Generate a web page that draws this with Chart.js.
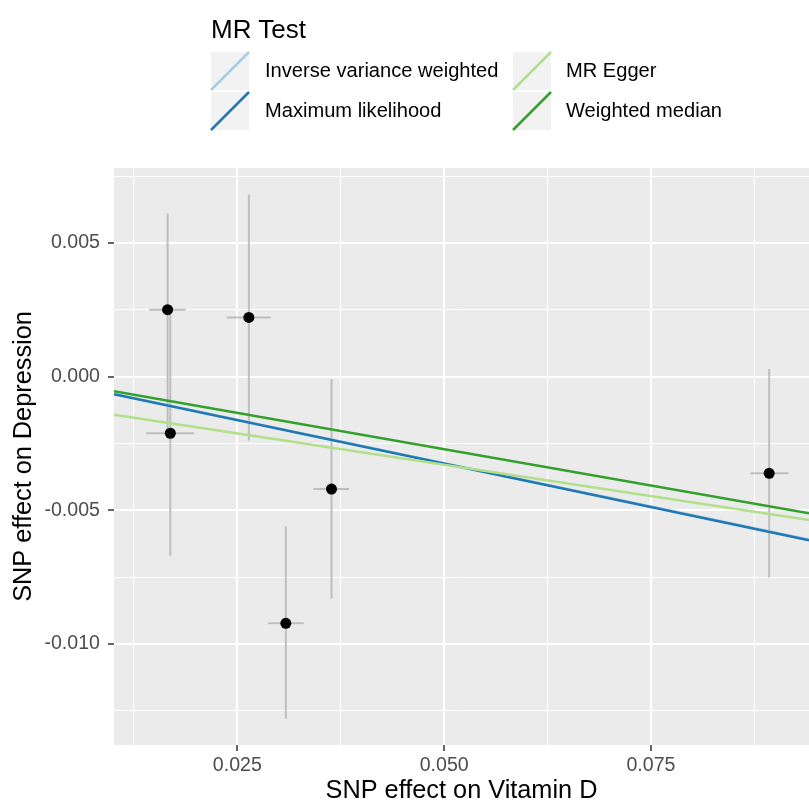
<!DOCTYPE html>
<html>
<head>
<meta charset="utf-8">
<script src="https://cdn.jsdelivr.net/npm/chart.js@4.4.1/dist/chart.umd.min.js"></script>
<style>
    html, body { margin: 0; padding: 0; background: #fff; }
    #wrap { position: relative; width: 809px; height: 807px; overflow: hidden; font-family: "Liberation Sans", Arial, sans-serif; }
    #mrChart { position: absolute; left: 0; top: 0; }
    .lg-title { position: absolute; left: 211px; top: 16px; font-size: 26px; line-height: 26px; color: #000; white-space: nowrap; }
    .lg-key { position: absolute; width: 38px; height: 38px; background: #f2f2f2; }
    .lg-key svg { position: absolute; left: 0; top: 0; overflow: visible; }
    .lg-label { position: absolute; font-size: 20.1px; line-height: 20.1px; color: #000; white-space: nowrap; }
</style>
</head>
<body>
<div id="wrap">
    <canvas id="mrChart" width="809" height="807"></canvas>
    <div id="legend"></div>
</div>
<script>
// SNP estimates (x = Vitamin D, y = Depression)
const snpX   = [0.01657, 0.0169, 0.02639, 0.03638, 0.03086, 0.08929];
const snpXlo = [0.01434, 0.01395, 0.02373, 0.0342, 0.02872, 0.08702];
const snpXhi = [0.01874, 0.01975, 0.02905, 0.0385, 0.03303, 0.09161];
const snpY   = [0.0025, -0.00212, 0.00221, -0.00421, -0.00923, -0.00362];
const snpYlo = [-0.0020, -0.0067, -0.0024, -0.0083, -0.0128, -0.00752];
const snpYhi = [0.0061, 0.0025, 0.0068, -0.0001, -0.0056, 0.00028];

// MR fits
const methods    = ['Inverse variance weighted', 'Maximum likelihood', 'MR Egger', 'Weighted median'];
const slopes     = [-0.0648, -0.0651, -0.0468, -0.0543];
const intercepts = [0, 0, -0.00096, 0];
const methodColors = ['#a6cee3', '#1f78b4', '#b2df8a', '#33a02c'];

// axes
const xRange = [0.01009, 0.0941];
const yRange = [-0.01378, 0.0078];
const xMajor = [0.025, 0.05, 0.075];
const xMinor = [0.0125, 0.0375, 0.0625, 0.0875];
const xLabels = ['0.025', '0.050', '0.075'];
const yMajor = [-0.01, -0.005, 0, 0.005];
const yMinor = [-0.0125, -0.0075, -0.0025, 0.0025, 0.0075];
const yLabels = ['-0.010', '-0.005', '0.000', '0.005'];

// legend (html, 2 columns filled by column like ggplot)
const legendEl = document.getElementById('legend');
let html = '<div class="lg-title">MR Test</div>';
methods.forEach((m, i) => {
    const col = Math.floor(i / 2), row = i % 2;
    const kx = col === 0 ? 211 : 513;
    const ky = 52 + row * 40;
    const lx = col === 0 ? 265 : 566;
    html += `<div class="lg-key" style="left:${kx}px;top:${ky}px"><svg width="38" height="38"><line x1="0" y1="38" x2="38" y2="0" stroke="${methodColors[i]}" stroke-width="2.5"/></svg></div>`;
    html += `<div class="lg-label" style="left:${lx}px;top:${ky + 8}px">${m}</div>`;
});
legendEl.innerHTML = html;

// datasets
const vBars = [], hBars = [];
snpX.forEach((x, i) => {
    vBars.push({ x: x, y: snpYlo[i] }, { x: x, y: snpYhi[i] }, { x: x, y: null });
    hBars.push({ x: snpXlo[i], y: snpY[i] }, { x: snpXhi[i], y: snpY[i] }, { x: snpXhi[i], y: null });
});

const fitSets = methods.map((m, i) => ({
    label: m,
    data: xRange.map(x => ({ x: x, y: intercepts[i] + slopes[i] * x })),
    showLine: true,
    borderColor: methodColors[i],
    borderWidth: 2.5,
    pointRadius: 0,
    order: 4 - i,
}));

const isMajor = (list, v) => list.some(t => Math.abs(t - v) < 1e-9);

// grey panel behind the grid
const panelBg = {
    id: 'panelBg',
    beforeDraw(chart) {
        const { ctx, chartArea: a } = chart;
        ctx.save();
        ctx.fillStyle = '#fff';
        ctx.fillRect(0, 0, chart.width, chart.height);
        ctx.fillStyle = '#ebebeb';
        ctx.fillRect(a.left, a.top, a.right - a.left, a.bottom - a.top);
        ctx.restore();
    }
};

Chart.defaults.font.family = '"Liberation Sans", Arial, sans-serif';

new Chart(document.getElementById('mrChart'), {
    type: 'scatter',
    data: {
        datasets: [
            {
                label: 'vbars', data: vBars, showLine: true, spanGaps: false,
                borderColor: '#bebebe', borderWidth: 2, pointRadius: 0, order: 10,
            },
            {
                label: 'hbars', data: hBars, showLine: true, spanGaps: false,
                borderColor: '#bebebe', borderWidth: 2, pointRadius: 0, order: 9,
            },
            {
                label: 'snps', data: snpX.map((x, i) => ({ x: x, y: snpY[i] })),
                pointRadius: 5.5, pointBackgroundColor: '#000', pointBorderWidth: 0, order: 8,
            },
            ...fitSets
        ]
    },
    options: {
        responsive: false,
        animation: false,
        layout: { autoPadding: false, padding: { top: 168, left: 0, right: 0, bottom: 0 } },
        plugins: { legend: { display: false }, tooltip: { enabled: false } },
        scales: {
            x: {
                type: 'linear',
                min: xRange[0], max: xRange[1],
                afterBuildTicks: s => { s.ticks = [...xMajor, ...xMinor].sort((a, b) => a - b).map(v => ({ value: v })); },
                afterFit: s => { s.height = 62; s.paddingLeft = 0; s.paddingRight = 0; },
                border: { display: false },
                grid: {
                    color: '#fff',
                    lineWidth: c => isMajor(xMajor, c.tick.value) ? 2 : 1,
                    tickColor: c => isMajor(xMajor, c.tick.value) ? '#333' : 'rgba(0,0,0,0)',
                    tickLength: 6,
                    tickWidth: 1.5,
                },
                ticks: {
                    autoSkip: false, maxRotation: 0, padding: 3,
                    color: '#4d4d4d', font: { size: 19.6 },
                    callback: v => { const i = xMajor.findIndex(t => Math.abs(t - v) < 1e-9); return i >= 0 ? xLabels[i] : ''; }
                },
                title: { display: true, text: 'SNP effect on Vitamin D', color: '#000', font: { size: 25.3 }, padding: { top: 0, bottom: 1 } }
            },
            y: {
                type: 'linear',
                min: yRange[0], max: yRange[1],
                afterBuildTicks: s => { s.ticks = [...yMajor, ...yMinor].sort((a, b) => a - b).map(v => ({ value: v })); },
                afterFit: s => { s.width = 114; s.paddingTop = 0; s.paddingBottom = 0; },
                border: { display: false },
                grid: {
                    color: '#fff',
                    lineWidth: c => isMajor(yMajor, c.tick.value) ? 2 : 1,
                    tickColor: c => isMajor(yMajor, c.tick.value) ? '#333' : 'rgba(0,0,0,0)',
                    tickLength: 6,
                    tickWidth: 1.5,
                },
                ticks: {
                    autoSkip: false, padding: 8,
                    color: '#4d4d4d', font: { size: 19.6 },
                    callback: v => { const i = yMajor.findIndex(t => Math.abs(t - v) < 1e-9); return i >= 0 ? yLabels[i] : ''; }
                },
                title: { display: true, text: 'SNP effect on Depression', color: '#000', font: { size: 25.3 }, padding: { top: 9, bottom: 0 } }
            }
        }
    },
    plugins: [panelBg]
});
</script>
</body>
</html>
